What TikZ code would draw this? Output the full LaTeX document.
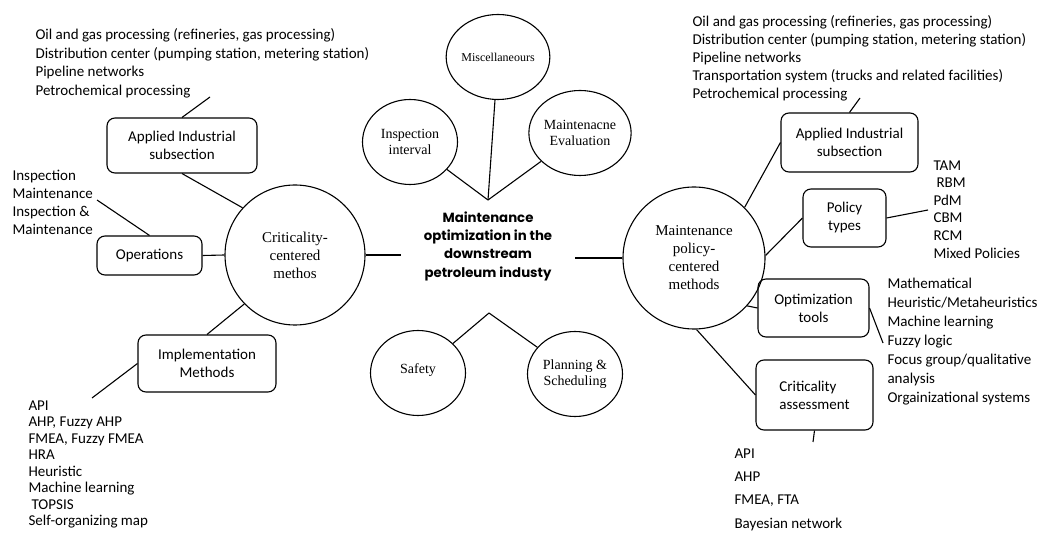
\documentclass[tikz,border=0pt]{standalone}
\usepackage{fontspec}
\setmainfont{Liberation Serif}
\newfontfamily\listfont{Carlito}
\newfontfamily\hubfont{Poppins}
\usetikzlibrary{shapes.geometric}

\begin{document}
\begin{tikzpicture}[x=1pt,y=-1pt,line width=1.1pt,
    bigcirc/.style={draw,circle,minimum size=140pt,inner sep=0pt,align=center,font=\fontsize{15}{18}\selectfont},
    smallcirc/.style={draw,ellipse,minimum width=95pt,minimum height=85pt,inner sep=0pt,align=center,font=\fontsize{14}{16}\selectfont},
    subbox/.style={draw,rounded corners=8pt,inner sep=0pt,align=center,font=\listfont\fontsize{15}{18}\selectfont},
    itemlist/.style={anchor=north west,inner sep=0pt,align=left,font=\listfont\fontsize{15}{18}\selectfont}]
            \useasboundingbox (0,0) rectangle (1038,534);

            \node[bigcirc] (crit) at (295,255) {Criticality-\\centered\\methos};
            \node[bigcirc,minimum size=142pt] (pol) at (694,258) {Maintenance\\policy-\\centered\\methods};
            \node[font=\hubfont\bfseries\fontsize{13.3}{18.3}\selectfont,align=center,minimum width=173pt,inner sep=0pt] (hub) at (488,246) {Maintenance\\optimization in the\\downstream\\petroleum industy};

            \node[smallcirc] (misc) at (498,57) {\fontsize{12}{14}\selectfont Miscellaneours};
            \node[smallcirc] (insp) at (410,142) {Inspection\\interval};
            \node[smallcirc] (meval) at (580,133) {Maintenacne\\Evaluation};
            \node[smallcirc] (safe) at (418,373) {\raisebox{8pt}{Safety}};
            \node[smallcirc] (plan) at (575,374) {Planning \&\\Scheduling};

            \node[subbox,minimum width=150pt,minimum height=55pt] (lappl) at (182,145.5) {Applied Industrial\\subsection};
            \node[subbox,minimum width=105pt,minimum height=39pt] (ops) at (149.5,255.5) {Operations};
            \node[subbox,minimum width=138pt,minimum height=57pt] (impl) at (207,363.5) {Implementation\\Methods};
            \node[subbox,minimum width=137pt,minimum height=59pt] (rappl) at (849.5,142.5) {Applied Industrial\\subsection};
            \node[subbox,minimum width=83pt,minimum height=58pt] (ptype) at (844.5,218) {Policy\\types};
            \node[subbox,minimum width=111pt,minimum height=58pt] (opt) at (813.5,308) {Optimization\\tools};
            \node[subbox,minimum width=117pt,minimum height=70pt,align=left] (cass) at (814.5,395) {Criticality\\assessment};

            \node[itemlist,font=\listfont\fontsize{15}{18.7}\selectfont] (lapplist) at (35,28) {Oil and gas processing (refineries, gas processing)\\Distribution center (pumping station, metering station)\\Pipeline networks\\Petrochemical processing};
            \node[itemlist,font=\listfont\fontsize{15}{17.7}\selectfont] (opslist) at (12,170) {Inspection\\Maintenance\\Inspection \&\\Maintenance};
            \node[itemlist,font=\listfont\fontsize{15}{16.5}\selectfont] (impllist) at (28,400) {API\\AHP, Fuzzy AHP\\FMEA, Fuzzy FMEA\\HRA\\Heuristic\\Machine learning\\\hspace{3pt}TOPSIS\\Self-organizing map};
            \node[itemlist] (rapplist) at (692,15) {Oil and gas processing (refineries, gas processing)\\Distribution center (pumping station, metering station)\\Pipeline networks\\Transportation system (trucks and related facilities)\\Petrochemical processing};
            \node[itemlist,font=\listfont\fontsize{15}{17.6}\selectfont] (ptypelist) at (933,160) {TAM\\\hspace{3pt}RBM\\PdM\\CBM\\RCM\\Mixed Policies};
            \node[itemlist,font=\listfont\fontsize{15}{19}\selectfont] (optlist) at (887,278) {Mathematical\\Heuristic/Metaheuristics\\Machine learning\\Fuzzy logic\\Focus group/qualitative\\analysis\\Orgainizational systems};
            \node[itemlist,font=\listfont\fontsize{15}{23.3}\selectfont] (casslist) at (734,448) {API\\AHP\\FMEA, FTA\\Bayesian network};

            \coordinate (lapplend) at (210,97);
            \coordinate (opsend) at (97,200);
            \coordinate (implend) at (92,398);
            \coordinate (topj) at (488,200);
            \coordinate (botj) at (489,313);
            \coordinate (rapplend) at (860,98);
            \coordinate (ptypeend) at (928,210);
            \coordinate (optend) at (883,343);
            \coordinate (cassend) at (813,442);

            \draw (lappl.north) -- (lapplend);
            \draw (lappl.south) -- (crit.138);
            \draw (ops.north) -- (opsend);
            \draw (ops.east) -- (crit.west);
            \draw (crit.224) -- (impl.north);
            \draw (impl.west) -- (implend);
            \draw (crit.east) -- (crit.east -| hub.west);
            \draw (pol.west) -- (pol.west -| hub.east);
            \draw (topj) -- (insp);
            \draw (topj) -- (misc);
            \draw (topj) -- (meval);
            \draw (botj) -- (safe);
            \draw (botj) -- (plan);
            \draw (rappl.north) -- (rapplend);
            \draw (pol.45) -- (rappl.west);
            \draw (pol.2) -- (ptype.west);
            \draw (ptype.east) -- (ptypeend);
            \draw (pol.-42) -- (opt.west);
            \draw (opt.east) -- (optend);
            \draw (pol.-88) -- (cass.west);
            \draw (cass.south) -- (cassend);
        \end{tikzpicture}
\end{document}
